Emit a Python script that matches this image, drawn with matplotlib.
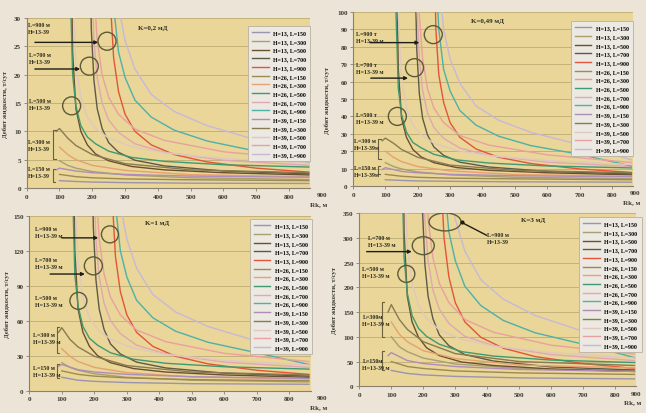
import numpy as np
import matplotlib
matplotlib.use('Agg')
import matplotlib.pyplot as plt
import matplotlib.transforms as mtransforms
from matplotlib.patches import Ellipse

nan = np.nan

heights = [13, 26, 39]
lengths = [150, 300, 500, 700, 900]

# Rk grids, one per well length
rk_150 = [90, 100, 150, 200, 300, 500, 860]
rk_300 = [90, 100, 125, 150, 200, 300, 500, 860]
rk_500 = [128, 133, 140, 150, 165, 185, 210, 250, 320, 420, 600, 860]
rk_700 = [185, 190, 197, 205, 215, 230, 250, 280, 330, 420, 600, 860]
rk_900 = [242, 248, 256, 265, 280, 300, 330, 380, 450, 550, 700, 860]
rk_all = [rk_150, rk_300, rk_500, rk_700, rk_900]

# K = 0.2 mD   (rows: H=13, H=26, H=39)
k02_l150 = [[nan, 1.3, 1.15, 1.05, 0.95, 0.85, 0.8],
            [nan, 2.4, 2.0, 1.8, 1.6, 1.45, 1.3],
            [3.2, 3.5, 3.0, 2.7, 2.4, 2.1, 1.9]]
k02_l300 = [[nan, 4.8, 4.0, 3.5, 2.9, 2.3, 1.8, 1.5],
            [nan, 7.2, 5.9, 5.0, 4.0, 3.1, 2.35, 2.0],
            [10.0, 10.5, 8.8, 7.5, 5.9, 4.3, 3.2, 2.7]]
k02_l500 = [[200, 50, 24, 14, 10, 7.6, 6.0, 4.8, 3.8, 3.2, 2.7, 2.3],
            [90, 35, 20, 14.5, 11, 9.0, 7.8, 6.5, 5.4, 4.7, 4.1, 3.7],
            [300, 120, 35, 22, 16, 12.5, 10.5, 8.8, 7.3, 6.2, 5.2, 4.4]]
k02_l700 = [[300, 50, 28, 19, 14, 10.5, 8.0, 6.3, 4.9, 3.9, 3.0, 2.5],
            [300, 90, 38, 26, 19.5, 15, 12, 9.8, 7.8, 6.3, 4.9, 4.0],
            [300, 300, 60, 35, 26, 20, 16, 13, 10.4, 8.4, 6.4, 5.0]]
k02_l900 = [[300, 60, 32, 23, 17, 13, 10, 7.6, 5.9, 4.6, 3.5, 2.8],
            [300, 120, 45, 32, 24, 19.5, 15.5, 12.5, 10.2, 8.3, 6.5, 4.5],
            [300, 300, 80, 42, 32, 26, 21, 16.5, 13.5, 11, 8.5, 6.2]]

# K = 0.49 mD
k049_l150 = [[nan, 3.6, 3.2, 2.9, 2.7, 2.4, 2.2],
             [nan, 6.7, 5.6, 5.0, 4.5, 4.1, 3.6],
             [9.5, 10.5, 8.4, 7.6, 6.7, 5.9, 5.3]]
k049_l300 = [[nan, 13.4, 11.2, 9.8, 8.1, 6.4, 5.0, 4.2],
             [nan, 20, 16.5, 14, 11.2, 8.7, 6.6, 5.6],
             [26, 27.5, 24.6, 21, 16.5, 12, 9.0, 7.6]]
k049_l500 = [[560, 140, 67, 39, 28, 21, 16.8, 13.4, 10.6, 9.0, 7.6, 6.4],
             [250, 98, 56, 41, 31, 25, 22, 18.2, 15, 13.2, 11.5, 10.4],
             [840, 336, 98, 62, 45, 35, 29.4, 24.6, 20.4, 17.4, 14.6, 12.3]]
k049_l700 = [[840, 140, 78, 53, 39, 29.4, 22.4, 17.6, 13.7, 10.9, 8.4, 7.0],
             [840, 252, 106, 73, 55, 42, 33.6, 27.4, 21.8, 17.6, 13.7, 11.2],
             [840, 840, 168, 98, 73, 56, 44.8, 36.4, 29, 23.5, 17.9, 13.5]]
k049_l900 = [[840, 168, 90, 64, 48, 36.4, 28, 21.3, 16.5, 12.9, 9.8, 7.8],
             [840, 336, 126, 90, 67, 54.6, 43.4, 35, 28.6, 23.2, 18.2, 11.5],
             [840, 840, 224, 118, 90, 73, 59, 46, 37.8, 30.8, 23.8, 15.0]]

# K = 1 mD
k1_l150 = [[nan, 11.5, 9, 8, 7, 6, 5.5],
           [nan, 17, 14, 12.5, 11, 9.5, 8.5],
           [21, 22.5, 18, 16, 14, 12, 10.5]]
k1_l300 = [[nan, 24, 20, 17.5, 14.5, 11.5, 9, 7.5],
           [nan, 36, 29.5, 25, 20, 15.5, 11.8, 10],
           [50, 54, 44, 37.5, 29.5, 21.5, 16, 13.5]]
k1_l500 = [[1000, 250, 120, 70, 50, 38, 30, 24, 19, 16, 13.5, 11.5],
           [450, 175, 100, 72.5, 55, 45, 39, 32.5, 27, 23.5, 20.5, 18.5],
           [1500, 600, 175, 110, 80, 62.5, 52.5, 44, 36.5, 31, 26, 22]]
k1_l700 = [[1500, 250, 140, 95, 70, 52.5, 40, 31.5, 24.5, 19.5, 15, 12.5],
           [1500, 450, 190, 130, 97.5, 75, 60, 49, 39, 31.5, 24.5, 20],
           [1500, 1500, 300, 175, 130, 100, 80, 65, 52, 42, 32, 25]]
k1_l900 = [[1500, 300, 160, 115, 85, 65, 50, 38, 29.5, 23, 17.5, 14],
           [1500, 600, 225, 160, 120, 97.5, 77.5, 62.5, 51, 41.5, 32.5, 22.5],
           [1500, 1500, 400, 210, 160, 130, 105, 82.5, 67.5, 55, 42.5, 31]]

# K = 3 mD
k3_l150 = [[nan, 32, 26, 23, 20, 17, 15],
           [nan, 50, 40, 36, 31, 27, 24],
           [62, 68, 52, 46, 40, 34, 30]]
k3_l300 = [[nan, 100, 80, 70, 57, 45, 36, 30],
           [nan, 130, 105, 90, 72, 56, 43, 37],
           [150, 165, 135, 115, 90, 66, 50, 42]]
k3_l500 = [[4000, 650, 312, 182, 130, 99, 78, 62, 49, 42, 35, 30],
           [1170, 455, 260, 188, 143, 117, 101, 85, 70, 61, 53, 48],
           [4000, 1560, 455, 286, 208, 163, 137, 114, 95, 81, 68, 57]]
k3_l700 = [[4000, 650, 364, 247, 182, 137, 104, 82, 64, 51, 39, 33],
           [4000, 1170, 494, 338, 254, 195, 156, 127, 101, 82, 64, 52],
           [4000, 4000, 780, 455, 338, 260, 208, 169, 135, 109, 83, 65]]
k3_l900 = [[4000, 780, 416, 299, 221, 169, 130, 99, 77, 60, 46, 36],
           [4000, 1560, 585, 416, 312, 254, 202, 163, 133, 108, 85, 58],
           [4000, 4000, 1040, 546, 416, 338, 273, 215, 176, 143, 111, 81]]

colors = [['#9a94b0', '#a8a070', '#6a5030', '#5e5a48', '#e2553a'],
          ['#9c8a50', '#e8a070', '#3f9a72', '#e0a8b0', '#4fb0a8'],
          ['#b08cb8', '#8a7a50', '#e0c8c0', '#eaa0a0', '#c8b8d8']]

FONT = 'Liberation Serif'
TXT = '#2a2a20'
fig = plt.figure(figsize=(6.46, 4.14), dpi=100)
fig.patch.set_facecolor('#ece4d6')
W, H = 646, 414


def make_axes(x0, x1, ytop, ybot):
    return fig.add_axes([x0 / W, 1 - ybot / H, (x1 - x0) / W, (ybot - ytop) / H])


def ring(ax, x, y, wpx, hpx):
    bb = ax.get_window_extent()
    xl, yl = ax.get_xlim(), ax.get_ylim()
    w = wpx * (xl[1] - xl[0]) / bb.width
    h = hpx * (yl[1] - yl[0]) / bb.height
    ax.add_patch(Ellipse((x, y), w, h, fill=False, ec='#5c5a38', lw=1.0, zorder=5))


def note(ax, x, y, s):
    ax.text(x, y, s, fontsize=4.3, fontweight='bold', family=FONT, color=TXT,
            va='top', ha='left', linespacing=1.5, zorder=6)


def arrow(ax, x0, y0, x1, y1):
    ax.annotate('', xy=(x1, y1), xytext=(x0, y0),
                arrowprops=dict(arrowstyle='-|>', color='#1e1e18', lw=1.0,
                                mutation_scale=5, shrinkA=0, shrinkB=0), zorder=6)


def bracket(ax, x, y0, y1, dx):
    ax.plot([x + dx, x, x, x + dx], [y0, y0, y1, y1], color='#6b6040', lw=0.8, zorder=5)


def panel(rect, ymax, ystep, title, tpos, data, leg_anchor, ylab_x, x_end):
    ax = make_axes(*rect)
    ax.set_facecolor('#e9d698')
    for hi in range(3):
        for li in range(5):
            ax.plot(rk_all[li], data[li][hi], color=colors[hi][li], lw=1.0,
                    label='H=%d, L=%d' % (heights[hi], lengths[li]))
    ax.set_xlim(0, 865)
    ax.set_ylim(0, ymax)
    ax.set_xticks(range(0, 900, 100))
    ax.set_yticks(np.arange(0, ymax + 1, ystep))
    ax.yaxis.grid(True, color='#c2b27a', lw=0.7)
    ax.set_axisbelow(True)
    for s in ['top', 'right']:
        ax.spines[s].set_visible(False)
    for s in ['left', 'bottom']:
        ax.spines[s].set_color('#8a8070')
        ax.spines[s].set_linewidth(0.8)
    ax.tick_params(labelsize=5, length=2, width=0.6, color='#8a8070', pad=2)
    for t in ax.get_xticklabels() + ax.get_yticklabels():
        t.set_family(FONT)
        t.set_fontweight('bold')
        t.set_color('#3a3a30')
    tr = mtransforms.blended_transform_factory(ax.transData, ax.transAxes)
    ax.text(x_end, -0.025, '900', transform=tr, ha='right', va='top', fontsize=5,
            fontweight='bold', family=FONT, color='#3a3a30', clip_on=False)
    ax.text(x_end, -0.075, 'Rk, м', transform=tr, ha='right', va='top', fontsize=5,
            fontweight='bold', family=FONT, color='#3a3a30', clip_on=False)
    ax.set_ylabel('Дебит жидкости, т/сут', fontsize=4.8, fontweight='bold',
                  family=FONT, color='#3a3a30')
    ax.yaxis.set_label_coords(ylab_x, 0.5)
    ax.text(tpos[0], tpos[1], title, fontsize=5, fontweight='bold', family=FONT,
            color=TXT, ha='center', va='center')
    leg = ax.legend(loc='upper right', bbox_to_anchor=leg_anchor, borderaxespad=0,
                    prop={'family': FONT, 'size': 4.2, 'weight': 'bold'},
                    labelspacing=0.62, handlelength=2.8, handletextpad=0.8,
                    borderpad=0.7, fancybox=False, framealpha=1)
    leg.get_frame().set_facecolor('#ece8e2')
    leg.get_frame().set_edgecolor('#b8b0a0')
    leg.get_frame().set_linewidth(0.6)
    return ax


# K = 0.2
ax = panel((26.7, 310.4, 19, 189), 30, 5, 'K=0,2 мД', (385, 28.3),
           [k02_l150, k02_l300, k02_l500, k02_l700, k02_l900], (1.0, 0.953), -0.066, 915)
note(ax, 5, 29.3, 'L=900 м\nH=13-39')
arrow(ax, 25, 25.7, 218, 25.7)
ring(ax, 245, 25.9, 18, 18)
note(ax, 8, 24.0, 'L=700 м\nH=13-39')
arrow(ax, 25, 21, 163, 21)
ring(ax, 191, 21.5, 18, 18)
note(ax, 8, 15.9, 'L=500 м\nH=13-39')
ring(ax, 137, 14.5, 18, 18)
note(ax, 3, 8.6, 'L=300 м\nH=13-39')
bracket(ax, 80, 10.3, 5.1, 8)
note(ax, 3, 3.8, 'L=150 м\nH=13-39')
bracket(ax, 80, 3.4, 1.0, 6)

# K = 0.49
ax = panel((353, 633, 13, 187), 100, 10, 'K=0,49 мД', (414, 95),
           [k049_l150, k049_l300, k049_l500, k049_l700, k049_l900], (1.0, 0.948), -0.082, 888)
note(ax, 10, 89, 'L=900 т\nH=13-39 м')
arrow(ax, 52, 82.4, 205, 82.4)
ring(ax, 248, 87, 18, 18)
note(ax, 10, 71, 'L=700 т\nH=13-39 м')
arrow(ax, 55, 62, 170, 62)
ring(ax, 190, 68, 18, 18)
note(ax, 10, 42.5, 'L=500 т\nH=13-39 м')
ring(ax, 137, 40, 18, 18)
note(ax, 3, 27.5, 'L=300 м\nH=13-39м')
bracket(ax, 78, 27, 15.5, 8)
note(ax, 3, 11.8, 'L=150 м\nH=13-39м')
bracket(ax, 78, 11.6, 6.8, 6)

# K = 1
ax = panel((29.3, 310.5, 216.7, 391.7), 150, 30, 'K=1 мД', (392, 144),
           [k1_l150, k1_l300, k1_l500, k1_l700, k1_l900], (1.005, 0.981), -0.069, 915)
note(ax, 17, 141, 'L=900 м\nH=13-39 м')
arrow(ax, 100, 131, 212, 131)
ring(ax, 248, 134, 17, 17)
note(ax, 17, 115, 'L=700 м\nH=13-39 м')
arrow(ax, 64, 100, 171, 100)
ring(ax, 197, 107, 18, 18)
note(ax, 17, 82, 'L=500 м\nH=13-39 м')
ring(ax, 151, 77, 17, 17)
note(ax, 10, 50.6, 'L=300 м\nH=13-39 м')
bracket(ax, 84, 55, 32, 8)
note(ax, 10, 22, 'L=150 м\nH=13-39 м')
bracket(ax, 84, 22.5, 10.5, 6)

# K = 3
ax = panel((359.3, 636, 214, 387.3), 350, 50, 'K=3 мД', (544, 336),
           [k3_l150, k3_l300, k3_l500, k3_l700, k3_l900], (1.02, 0.977), -0.082, 880)
note(ax, 400, 312, 'L=900 м\nH=13-39')
ax.plot([398, 320], [305, 331], color='#1e1e18', lw=1.0, zorder=6)
ax.plot([320], [331], 'o', color='#1e1e18', ms=2, zorder=6)
ring(ax, 268, 332, 32, 18)
note(ax, 28, 305, 'L=700 м\nH=13-39 м')
arrow(ax, 23, 272, 164, 272)
ring(ax, 200, 284, 22, 18)
note(ax, 10, 242, 'L=500 м\nH=13-39 м')
ring(ax, 147, 227, 17, 17)
note(ax, 10, 147, 'L=300м\nH=13-39 м')
bracket(ax, 70, 170, 99, 8)
note(ax, 10, 56.5, 'L=150м\nH=13-39 м')
bracket(ax, 70, 72, 32, 6)

fig.savefig('out.png', dpi=100, facecolor=fig.get_facecolor())
